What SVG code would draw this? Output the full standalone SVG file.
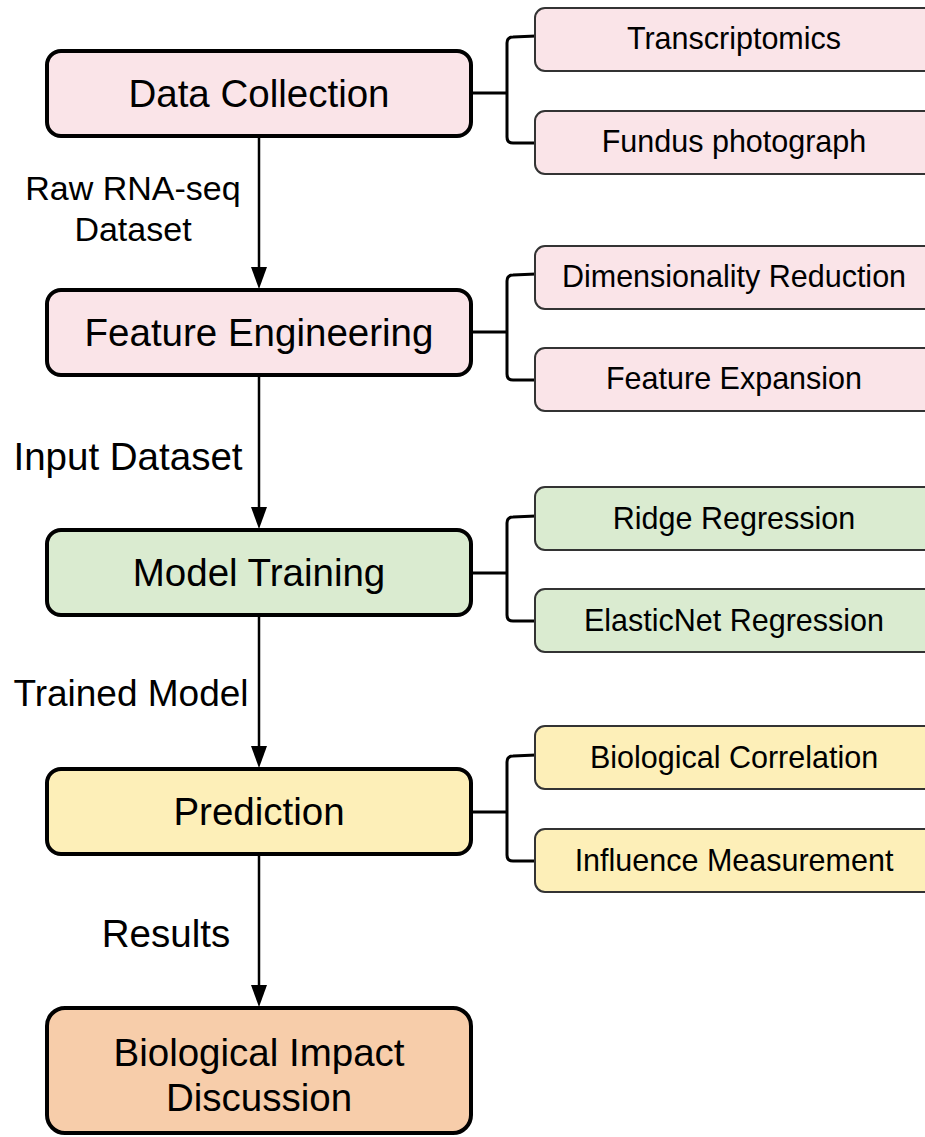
<svg xmlns="http://www.w3.org/2000/svg" width="925" height="1137" viewBox="0 0 925 1137">
<style>
.main{stroke:#000;stroke-width:4}
.sub{stroke:#333;stroke-width:2}
.pink{fill:#FAE4E8}
.green{fill:#DAEBD0}
.yellow{fill:#FDEFB8}
.peach{fill:#F7CDAA}
text{font-family:"Liberation Sans",Arial,sans-serif;fill:#000;text-anchor:middle}
.mt{font-size:38.5px}
.st{font-size:30.5px}
.conn{fill:none;stroke:#000;stroke-width:2.5}
.br{fill:none;stroke:#000;stroke-width:3}
</style>
<rect width="925" height="1137" fill="#fff"/>

<g id="connectors">
<line class="conn" x1="259" y1="137" x2="259" y2="267"/>
<path d="M251,267 L267,267 L259,289 Z" fill="#000"/>
<line class="conn" x1="259" y1="376" x2="259" y2="507"/>
<path d="M251,507 L267,507 L259,529 Z" fill="#000"/>
<line class="conn" x1="259" y1="616" x2="259" y2="746"/>
<path d="M251,746 L267,746 L259,768 Z" fill="#000"/>
<line class="conn" x1="259" y1="855" x2="259" y2="985"/>
<path d="M251,985 L267,985 L259,1007 Z" fill="#000"/>

<path class="br" d="M472,93 L507,93 M536,36 L513,37 Q507,37 507,43 L507,137 Q507,143 513,143 L536,143"/>
<path class="br" d="M472,332 L507,332 M536,274 L513,275 Q507,275 507,281 L507,374 Q507,380 513,380 L536,380"/>
<path class="br" d="M472,573 L507,573 M536,516 L513,517 Q507,517 507,523 L507,615 Q507,621 513,621 L536,621"/>
<path class="br" d="M472,812 L507,812 M536,755 L513,756 Q507,756 507,762 L507,855 Q507,861 513,861 L536,861"/>

<text x="133" y="200" style="font-size:34px">Raw RNA-seq</text>
<text x="133" y="241" style="font-size:34px">Dataset</text>
<text x="128" y="470" style="font-size:38.5px">Input Dataset</text>
<text x="131" y="706" style="font-size:37px">Trained Model</text>
<text x="166" y="947" style="font-size:38.5px">Results</text>
</g>

<g id="data-collection">
<rect class="main pink" x="47" y="51" width="424" height="85" rx="14"/>
<text class="mt" x="259" y="107">Data Collection</text>
</g>
<g id="transcriptomics">
<rect class="sub pink" x="535" y="8" width="400" height="63" rx="10"/>
<text class="st" x="734" y="49">Transcriptomics</text>
</g>
<g id="fundus">
<rect class="sub pink" x="535" y="111" width="400" height="63" rx="10"/>
<text class="st" x="734" y="152">Fundus photograph</text>
</g>

<g id="feature-engineering">
<rect class="main pink" x="47" y="290" width="424" height="85" rx="14"/>
<text class="mt" x="259" y="346">Feature Engineering</text>
</g>
<g id="dim-reduction">
<rect class="sub pink" x="535" y="246" width="400" height="63" rx="10"/>
<text class="st" x="734" y="287">Dimensionality Reduction</text>
</g>
<g id="feature-expansion">
<rect class="sub pink" x="535" y="348" width="400" height="63" rx="10"/>
<text class="st" x="734" y="389">Feature Expansion</text>
</g>

<g id="model-training">
<rect class="main green" x="47" y="530" width="424" height="85" rx="14"/>
<text class="mt" x="259" y="586">Model Training</text>
</g>
<g id="ridge">
<rect class="sub green" x="535" y="487" width="400" height="63" rx="10"/>
<text class="st" x="734" y="529">Ridge Regression</text>
</g>
<g id="elasticnet">
<rect class="sub green" x="535" y="589" width="400" height="63" rx="10"/>
<text class="st" x="734" y="631">ElasticNet Regression</text>
</g>

<g id="prediction">
<rect class="main yellow" x="47" y="769" width="424" height="85" rx="14"/>
<text class="mt" x="259" y="825">Prediction</text>
</g>
<g id="bio-correlation">
<rect class="sub yellow" x="535" y="726" width="400" height="63" rx="10"/>
<text class="st" x="734" y="768">Biological Correlation</text>
</g>
<g id="influence">
<rect class="sub yellow" x="535" y="829" width="400" height="63" rx="10"/>
<text class="st" x="734" y="871">Influence Measurement</text>
</g>

<g id="bio-impact">
<rect class="main peach" x="47" y="1008" width="424" height="125" rx="18"/>
<text class="mt" x="259" y="1066">Biological Impact</text>
<text class="mt" x="259" y="1111">Discussion</text>
</g>
</svg>
